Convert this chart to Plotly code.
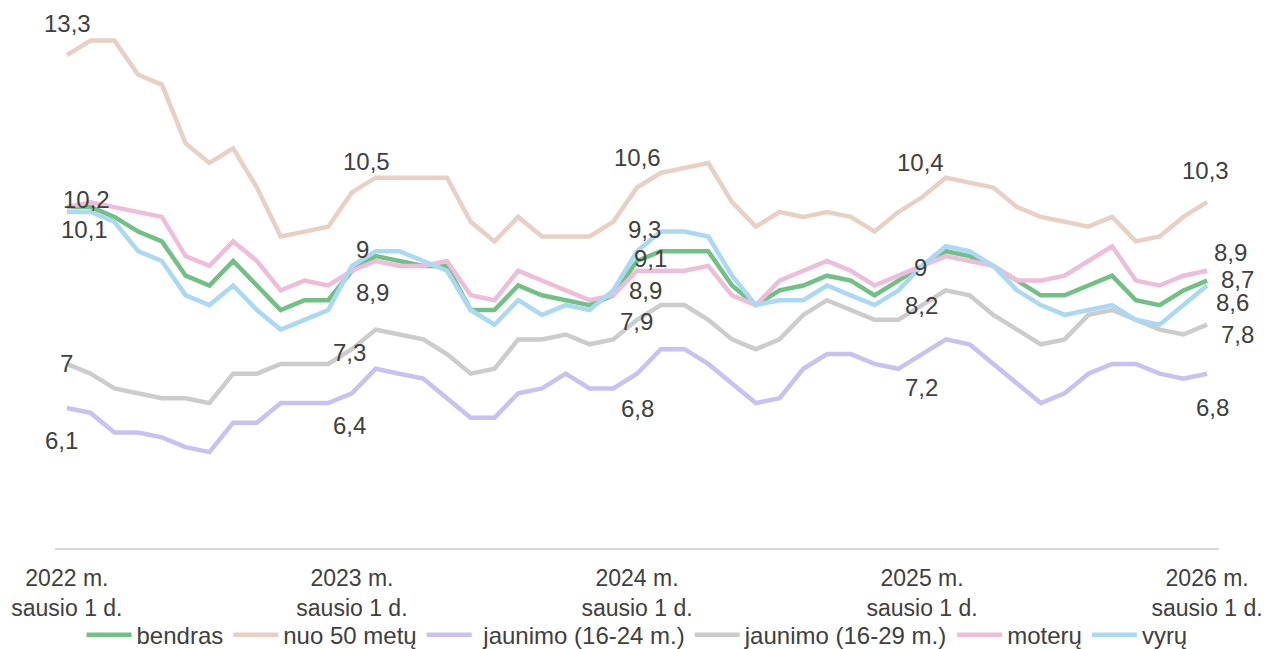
import plotly.graph_objects as go

months = [f"{y}-{m:02d}" for y in range(2022, 2026) for m in range(1, 13)] + ["2026-01"]

bendras = [10.2, 10.2, 10.0, 9.7, 9.5, 8.8, 8.6, 9.1, 8.6, 8.1, 8.3, 8.3,
           8.9, 9.2, 9.1, 9.0, 9.0, 8.1, 8.1, 8.6, 8.4, 8.3, 8.2, 8.4,
           9.1, 9.3, 9.3, 9.3, 8.6, 8.2, 8.5, 8.6, 8.8, 8.7, 8.4, 8.7,
           9.0, 9.3, 9.2, 9.0, 8.7, 8.4, 8.4, 8.6, 8.8, 8.3, 8.2, 8.5,
           8.7]
nuo50 = [13.3, 13.6, 13.6, 12.9, 12.7, 11.5, 11.1, 11.4, 10.6, 9.6, 9.7, 9.8,
         10.5, 10.8, 10.8, 10.8, 10.8, 9.9, 9.5, 10.0, 9.6, 9.6, 9.6, 9.9,
         10.6, 10.9, 11.0, 11.1, 10.3, 9.8, 10.1, 10.0, 10.1, 10.0, 9.7, 10.1,
         10.4, 10.8, 10.7, 10.6, 10.2, 10.0, 9.9, 9.8, 10.0, 9.5, 9.6, 10.0,
         10.3]
jaun24 = [6.1, 6.0, 5.6, 5.6, 5.5, 5.3, 5.2, 5.8, 5.8, 6.2, 6.2, 6.2,
          6.4, 6.9, 6.8, 6.7, 6.3, 5.9, 5.9, 6.4, 6.5, 6.8, 6.5, 6.5,
          6.8, 7.3, 7.3, 7.0, 6.6, 6.2, 6.3, 6.9, 7.2, 7.2, 7.0, 6.9,
          7.2, 7.5, 7.4, 7.0, 6.6, 6.2, 6.4, 6.8, 7.0, 7.0, 6.8, 6.7,
          6.8]
jaun29 = [7.0, 6.8, 6.5, 6.4, 6.3, 6.3, 6.2, 6.8, 6.8, 7.0, 7.0, 7.0,
          7.3, 7.7, 7.6, 7.5, 7.2, 6.8, 6.9, 7.5, 7.5, 7.6, 7.4, 7.5,
          7.9, 8.2, 8.2, 7.9, 7.5, 7.3, 7.5, 8.0, 8.3, 8.1, 7.9, 7.9,
          8.2, 8.5, 8.4, 8.0, 7.7, 7.4, 7.5, 8.0, 8.1, 7.9, 7.7, 7.6,
          7.8]
moteru = [10.2, 10.3, 10.2, 10.1, 10.0, 9.2, 9.0, 9.5, 9.1, 8.5, 8.7, 8.6,
          8.9, 9.1, 9.0, 9.0, 9.1, 8.4, 8.3, 8.9, 8.7, 8.5, 8.3, 8.4,
          8.9, 8.9, 8.9, 9.0, 8.4, 8.2, 8.7, 8.9, 9.1, 8.9, 8.6, 8.8,
          9.0, 9.2, 9.1, 9.0, 8.7, 8.7, 8.8, 9.1, 9.4, 8.7, 8.6, 8.8,
          8.9]
vyru = [10.1, 10.1, 9.9, 9.3, 9.1, 8.4, 8.2, 8.6, 8.1, 7.7, 7.9, 8.1,
        9.0, 9.3, 9.3, 9.1, 8.9, 8.1, 7.8, 8.3, 8.0, 8.2, 8.1, 8.5,
        9.3, 9.7, 9.7, 9.6, 8.8, 8.2, 8.3, 8.3, 8.6, 8.4, 8.2, 8.5,
        9.0, 9.4, 9.3, 9.0, 8.5, 8.2, 8.0, 8.1, 8.2, 7.9, 7.8, 8.2,
        8.6]

series_names = ["bendras", "nuo 50 metų", " jaunimo (16-24 m.)", "jaunimo (16-29 m.)", "moterų", "vyrų"]
series_values = [bendras, nuo50, jaun24, jaun29, moteru, vyru]
colors = ["#72C184", "#E8D1C4", "#C9C1F1", "#CCCCCC", "#EEBDDA", "#ABD9F3"]

tick_months = ["2022-01", "2023-01", "2024-01", "2025-01", "2026-01"]
tick_text = [f"{m[:4]} m.<br>sausio 1 d." for m in tick_months]

# (series index, month index, xshift px, yshift px)
labels = [
    (1, 0, 1, 32), (0, 0, 20, 8), (5, 0, 18, -18), (3, 0, 0, 0), (2, 0, -5, -32),
    (1, 12, 15, 31), (5, 12, 11, 16), (4, 12, 21, -22), (3, 12, -2, -3), (2, 12, -2, -32),
    (1, 24, 0, 30), (5, 24, 7, 22), (0, 24, 13, 2), (4, 24, 8, -20), (3, 24, -1, -2), (2, 24, 0, -35),
    (1, 36, -2, 35), (0, 36, -2, -2), (3, 36, -1, 0), (2, 36, -1, -33),
    (1, 48, -2, 32), (4, 48, 23, 18), (0, 48, 30, 1), (5, 48, 25, -17), (3, 48, 30, -10), (2, 48, 5, -34),
]

def fmt(v):
    return f"{v:g}".replace(".", ",")

FONT = "Liberation Sans, Arial"

fig = go.Figure()
for name, vals, col in zip(series_names, series_values, colors):
    fig.add_trace(go.Scatter(x=months, y=vals, mode="lines", name=name,
                             line=dict(color=col, width=4.5)))

annotations = []
for si, mi, dx, dy in labels:
    v = series_values[si][mi]
    annotations.append(dict(x=months[mi], y=v, xref="x", yref="y", text=fmt(v),
                            showarrow=False, xshift=dx, yshift=dy,
                            font=dict(family=FONT, size=24, color="#404040")))

fig.update_layout(
    width=1266, height=649,
    margin=dict(l=55, r=47, t=20, b=101, autoexpand=False),
    paper_bgcolor="white", plot_bgcolor="white",
    font=dict(family=FONT, size=24, color="#404040"),
    showlegend=True,
    legend=dict(orientation="h", x=0.5, xanchor="center", y=-0.165, yanchor="middle",
                font=dict(size=24, color="#404040"), itemwidth=45, tracegroupgap=0,
                bgcolor="rgba(0,0,0,0)"),
    annotations=annotations,
)
fig.update_xaxes(type="category", range=[-0.5, 48.5], showgrid=False, zeroline=False,
                 showline=True, linecolor="#D9D9D9", linewidth=1.5, ticks="",
                 tickvals=tick_months, ticktext=tick_text, automargin=False,
                 ticklabelstandoff=9,
                 tickfont=dict(family=FONT, size=23, color="#404040"))
fig.update_yaxes(range=[3.243, 14.018], visible=False, showgrid=False, zeroline=False)

fig.write_html("out.html", config={"displayModeBar": False},
               post_script="document.body.style.margin='0';document.body.style.overflow='hidden';")
